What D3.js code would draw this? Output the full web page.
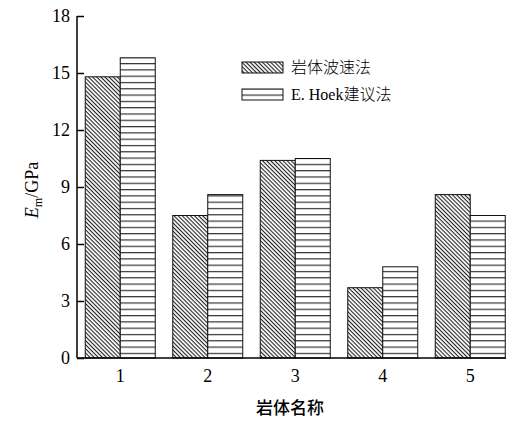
<!DOCTYPE html>
<html>
<head>
<meta charset="utf-8">
<script src="https://cdn.jsdelivr.net/npm/d3@7"></script>
<style>
  body { margin: 0; background: #fff; }
  svg { display: block; }
</style>
</head>
<body>
<svg id="chart" width="506" height="427"></svg>
<script>
// Rock mass categories and modulus estimates (GPa)
const categories = ["1", "2", "3", "4", "5"];
const waveSpeed = [14.8, 7.5, 10.4, 3.7, 8.6];   // 岩体波速法
const hoek = [15.8, 8.6, 10.5, 4.8, 7.5];        // E. Hoek建议法
const yTicks = [0, 3, 6, 9, 12, 15, 18];
const seriesNames = ["岩体波速法", "E. Hoek建议法"];

const svg = d3.select("#chart");
const serif = "'Liberation Serif', 'Times New Roman', serif";
const cjk = "'Noto Sans CJK SC', sans-serif";

const x0 = 77, yBottom = 358, yTop = 16;

const x = d3.scaleBand().domain(categories).range([76.5, 514])
  .paddingInner(0.2).paddingOuter(0.1);
const xSub = d3.scaleBand().domain([0, 1]).range([0, x.bandwidth()]);
const y = d3.scaleLinear().domain([0, 18]).range([yBottom, yTop]);

// fill patterns
const defs = svg.append("defs");
const diag = defs.append("pattern").attr("id", "diag")
  .attr("patternUnits", "userSpaceOnUse").attr("width", 2.9).attr("height", 2.9)
  .attr("patternTransform", "rotate(45)");
diag.append("rect").attr("width", 2.9).attr("height", 2.9).attr("fill", "#fff");
diag.append("rect").attr("width", 2.9).attr("height", 1.1).attr("fill", "#222");

const horiz = defs.append("pattern").attr("id", "horiz")
  .attr("patternUnits", "userSpaceOnUse").attr("width", 10).attr("height", 6.3);
horiz.append("rect").attr("width", 10).attr("height", 6.3).attr("fill", "#fff");
horiz.append("rect").attr("y", 0).attr("width", 10).attr("height", 1.2).attr("fill", "#333");

const fills = ["url(#diag)", "url(#horiz)"];
const series = [waveSpeed, hoek];

// bars
series.forEach((vals, si) => {
  svg.append("g").selectAll("rect").data(vals).join("rect")
    .attr("x", (d, i) => x(categories[i]) + xSub(si))
    .attr("y", d => y(d))
    .attr("width", xSub.bandwidth())
    .attr("height", d => yBottom - y(d))
    .attr("fill", fills[si])
    .attr("stroke", "#111").attr("stroke-width", 1);
});

// y axis with inward ticks
const yAxis = svg.append("g").attr("transform", `translate(${x0},0)`)
  .call(d3.axisRight(y).tickValues(yTicks).tickSize(7).tickFormat(""));
yAxis.select(".domain").remove();
yAxis.selectAll("line").attr("stroke", "#000").attr("stroke-width", 1.5);
svg.append("line").attr("x1", x0).attr("x2", x0).attr("y1", yTop).attr("y2", yBottom)
  .attr("stroke", "#000").attr("stroke-width", 1.5);
svg.append("g").selectAll("text").data(yTicks).join("text")
  .attr("x", 70).attr("y", d => y(d) + 6)
  .attr("text-anchor", "end")
  .attr("font-family", serif).attr("font-size", 18)
  .text(d => d);

// x axis
svg.append("line").attr("x1", x0).attr("x2", 506).attr("y1", yBottom).attr("y2", yBottom)
  .attr("stroke", "#000").attr("stroke-width", 1.5);
svg.append("g").selectAll("text").data(categories).join("text")
  .attr("x", d => x(d) + x.bandwidth() / 2)
  .attr("y", 382)
  .attr("text-anchor", "middle")
  .attr("font-family", serif).attr("font-size", 18)
  .text(d => d);

// axis titles
svg.append("text").attr("x", 290).attr("y", 414).attr("text-anchor", "middle")
  .attr("font-family", cjk).attr("font-size", 17).attr("font-weight", 500)
  .text("岩体名称");

const yl = svg.append("text")
  .attr("transform", "translate(38,190) rotate(-90)")
  .attr("text-anchor", "middle")
  .attr("font-family", serif).attr("font-size", 18);
yl.append("tspan").attr("font-style", "italic").text("E");
yl.append("tspan").attr("font-size", 12).attr("dy", 4).text("m");
yl.append("tspan").attr("dy", -4).text("/GPa");

// legend
const legend = svg.append("g");
seriesNames.forEach((name, i) => {
  const ly = 62 + i * 27;
  legend.append("rect").attr("x", 242).attr("y", ly).attr("width", 41).attr("height", 11)
    .attr("fill", fills[i]).attr("stroke", "#111").attr("stroke-width", 1);
  const t = legend.append("text").attr("x", 291).attr("y", ly + 11)
    .attr("font-size", 16);
  if (i === 0) {
    t.attr("font-family", cjk).attr("font-weight", 300).text(name);
  } else {
    t.append("tspan").attr("font-family", serif).text("E. Hoek");
    t.append("tspan").attr("font-family", cjk).attr("font-weight", 300).text("建议法");
  }
});
</script>
</body>
</html>
